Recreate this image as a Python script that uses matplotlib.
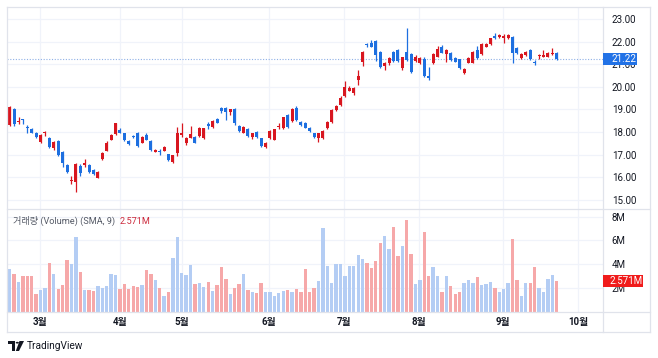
import matplotlib
matplotlib.use("Agg")
import matplotlib.pyplot as plt
from matplotlib.patches import Rectangle, Polygon, Circle
from matplotlib.lines import Line2D
from matplotlib.transforms import IdentityTransform

FONTS = ["Roboto", "Noto Sans CJK KR", "DejaVu Sans"]
plt.rcParams["font.family"] = FONTS

# ---------------- data ----------------
opens = [18.31, 19.00, 18.44, 18.55, 18.24, 18.12, 17.97, 17.57, 17.94, 17.76,
         17.28, 17.60, 17.13, 16.54, 15.85, 15.80, 16.49, 16.55, 16.54, 16.32,
         15.99, 16.79, 17.17, 17.67, 17.91, 18.09, 17.94, 17.60, 17.81, 17.97,
         17.53, 17.87, 17.60, 17.13, 17.16, 17.17, 17.03, 16.69, 17.06, 17.88,
         17.53, 17.76, 17.79, 17.82, 17.72, 18.33, 18.24, 18.56, 19.08, 19.05,
         18.90, 19.00, 18.26, 17.97, 18.12, 17.79, 18.00, 17.72, 17.32, 17.72,
         17.67, 18.22, 18.16, 18.75, 18.50, 19.05, 18.44, 18.41, 18.20, 17.94,
         17.76, 17.72, 18.19, 18.46, 18.97, 19.19, 19.59, 19.83, 19.71, 20.30,
         21.11, 21.88, 21.95, 22.04, 21.55, 20.92, 21.04, 21.55, 21.63, 20.82,
         21.55, 21.45, 21.16, 21.04, 21.21, 20.48, 21.04, 21.33, 21.75, 21.45,
         21.51, 21.26, 21.21, 20.60, 21.07, 21.07, 21.63, 21.45, 21.78, 21.89,
         22.25, 22.20, 22.18, 22.14, 22.22, 21.70, 21.26, 21.41, 21.63, 21.11,
         21.35, 21.33, 21.33, 21.45, 21.51]
highs = [19.15, 19.05, 18.65, 18.60, 18.31, 18.18, 18.00, 17.90, 18.05, 17.80,
         17.62, 17.65, 17.15, 16.60, 16.05, 16.65, 16.60, 16.79, 16.60, 16.36,
         16.27, 17.10, 17.60, 17.90, 18.40, 18.16, 17.97, 17.63, 17.86, 18.00,
         17.82, 17.95, 17.63, 17.25, 17.25, 17.40, 17.05, 17.00, 18.24, 18.38,
         17.80, 18.26, 17.82, 18.22, 18.20, 18.45, 18.55, 18.62, 19.12, 19.10,
         19.03, 19.05, 18.30, 18.28, 18.20, 17.98, 18.05, 17.75, 17.55, 18.10,
         18.15, 18.38, 18.68, 18.80, 19.05, 19.15, 18.47, 18.44, 18.24, 17.98,
         17.97, 18.10, 18.50, 19.00, 19.20, 19.60, 20.27, 20.05, 20.00, 20.74,
         21.60, 21.95, 22.05, 22.08, 21.60, 21.08, 21.30, 21.60, 21.68, 21.33,
         22.58, 21.50, 21.41, 21.30, 21.33, 20.89, 21.50, 21.80, 21.85, 21.68,
         21.55, 21.30, 21.25, 20.82, 21.30, 21.60, 21.80, 21.95, 21.93, 22.18,
         22.40, 22.33, 22.32, 22.32, 22.27, 21.74, 21.50, 21.60, 21.66, 21.20,
         21.45, 21.63, 21.55, 21.70, 21.55]
lows = [18.28, 18.26, 18.35, 18.35, 17.94, 17.94, 17.76, 17.50, 17.82, 17.30,
        17.22, 16.95, 16.47, 16.20, 15.70, 15.36, 16.05, 16.47, 16.20, 16.10,
        15.96, 16.76, 17.15, 17.65, 17.88, 17.94, 17.62, 17.45, 17.72, 17.35,
        17.50, 17.65, 17.15, 17.10, 17.00, 17.15, 16.72, 16.65, 16.95, 17.79,
        17.45, 17.72, 17.50, 17.78, 17.70, 18.15, 18.20, 18.38, 18.83, 18.53,
        18.75, 18.30, 18.00, 17.94, 17.78, 17.70, 17.75, 17.33, 17.28, 17.70,
        17.65, 18.12, 18.12, 18.20, 18.45, 18.50, 18.28, 18.16, 18.02, 17.76,
        17.57, 17.70, 18.15, 18.42, 18.92, 19.15, 19.55, 19.80, 19.65, 20.08,
        20.90, 21.75, 21.75, 21.16, 20.85, 20.74, 20.95, 21.12, 21.10, 20.74,
        21.15, 20.62, 21.10, 21.00, 20.45, 20.30, 21.00, 21.30, 21.48, 21.11,
        21.15, 21.08, 20.78, 20.55, 21.04, 21.04, 21.22, 21.40, 21.75, 21.86,
        22.10, 22.15, 21.95, 22.10, 21.04, 21.45, 21.22, 21.38, 21.18, 20.98,
        21.25, 21.30, 21.30, 21.40, 21.18]
closes = [19.12, 18.35, 18.48, 18.52, 18.18, 17.97, 17.79, 17.87, 17.98, 17.35,
          17.57, 16.98, 16.64, 16.24, 15.90, 16.58, 16.20, 16.62, 16.24, 16.14,
          16.24, 17.06, 17.53, 17.87, 18.38, 17.97, 17.65, 17.47, 17.77, 17.38,
          17.79, 17.67, 17.20, 17.20, 17.12, 17.35, 16.76, 16.98, 17.94, 17.94,
          17.76, 17.91, 17.53, 18.19, 18.16, 18.29, 18.50, 18.41, 18.93, 18.90,
          19.00, 18.41, 18.06, 18.24, 17.82, 17.94, 17.79, 17.38, 17.50, 18.06,
          18.12, 18.26, 18.65, 18.24, 19.00, 18.53, 18.31, 18.20, 18.06, 17.79,
          17.94, 18.06, 18.46, 18.97, 19.15, 19.49, 20.01, 19.97, 19.93, 20.48,
          21.55, 21.84, 21.78, 21.41, 20.89, 21.04, 21.26, 21.16, 21.15, 21.30,
          21.19, 20.67, 21.30, 21.26, 20.48, 20.37, 21.45, 21.66, 21.51, 21.63,
          21.19, 21.11, 20.82, 20.78, 21.26, 21.55, 21.26, 21.89, 21.89, 22.14,
          22.14, 22.29, 22.27, 22.29, 21.51, 21.48, 21.45, 21.55, 21.21, 21.04,
          21.38, 21.41, 21.51, 21.50, 21.22]
volumes_m = [3.56, 3.14, 2.52, 3.00, 3.00, 3.00, 1.45, 1.84, 1.95, 4.07,
             3.16, 1.90, 2.24, 4.35, 4.00, 6.30, 3.36, 1.81, 1.78, 1.73,
             2.18, 2.00, 2.18, 3.19, 3.07, 1.90, 2.28, 1.90, 2.12, 2.10,
             2.24, 3.47, 3.16, 2.66, 2.00, 1.30, 1.62, 4.54, 6.26, 3.22,
             3.07, 3.92, 2.30, 2.42, 2.03, 2.52, 1.76, 2.24, 3.78, 2.74,
             1.50, 2.00, 2.30, 3.16, 1.84, 1.67, 1.56, 2.37, 1.67, 1.62,
             1.33, 1.53, 1.73, 1.84, 1.67, 1.90, 1.62, 3.59, 1.62, 1.95,
             2.57, 7.07, 3.87, 2.38, 4.00, 4.00, 3.02, 3.81, 3.87, 4.77,
             4.43, 4.12, 3.70, 4.26, 5.75, 6.37, 5.24, 7.16, 4.71, 5.53,
             7.72, 4.85, 2.32, 2.63, 6.68, 3.02, 3.78, 3.02, 1.67, 3.02,
             2.18, 1.48, 1.62, 2.38, 2.66, 2.43, 2.91, 2.24, 2.32, 2.46,
             1.95, 1.67, 1.86, 2.43, 6.12, 2.66, 1.30, 2.43, 2.38, 3.73,
             1.95, 1.67, 2.74, 3.07, 2.571]
month_labels = ["3월", "4월", "5월", "6월", "7월", "8월", "9월", "10월"]
month_start_idx = [6.9, 25.0, 39.1, 58.8, 75.8, 92.8, 111.9, 128.9]
price_ticks = [15, 16, 17, 18, 19, 20, 21, 22, 23]
volume_ticks_m = [2, 4, 6, 8]
volume_title = "거래량 (Volume) (SMA, 9)"
volume_last_label = "2.571M"

# ---------------- style ----------------
UP = "#d8161f"
DOWN = "#1d6fe0"
VOL_RED = "#f6a8a9"
VOL_BLUE = "#b4cdf4"
GRID = "#f0f3fa"
BORDER = "#e0e3eb"
TXT = "#131722"

W, H = 658, 358
fig = plt.figure(figsize=(W / 100, H / 100), dpi=100)
fig.patch.set_facecolor("white")

L, R, RR = 7, 603, 650
P_TOP, P_BOT = 7, 209
V_TOP, V_BOT = 209, 311.5
B_BOT = 332

ax_p = fig.add_axes([L / W, 1 - P_BOT / H, (R - L) / W, (P_BOT - P_TOP) / H])
ax_v = fig.add_axes([L / W, 1 - V_BOT / H, (R - L) / W, (V_BOT - V_TOP) / H], sharex=ax_p)

n = len(closes)
xs = list(range(n))
ax_p.set_xlim(-0.61, 134.5)
ax_p.set_ylim(14.6, 23.53)
ax_v.set_ylim(0, 8.65)

for ax in (ax_p, ax_v):
    for s in ax.spines.values():
        s.set_visible(False)
    ax.set_xticks(month_start_idx)
    ax.grid(True, color=GRID, lw=0.9, zorder=0)
    ax.set_axisbelow(True)
    ax.set_facecolor("white")

# candles
for i in xs:
    o, h, l, c = opens[i], highs[i], lows[i], closes[i]
    col = UP if c >= o else DOWN
    ax_p.vlines(i, l, h, color=col, lw=0.9, zorder=2)
    bot = min(o, c)
    hgt = max(abs(c - o), 0.05)
    ax_p.bar(i, hgt, bottom=bot, width=0.68, color=col, zorder=3, linewidth=0)

# volume bars (the reference colours them opposite to the candle direction)
vcols = [VOL_RED if closes[i] < opens[i] else VOL_BLUE for i in xs]
ax_v.bar(xs, volumes_m, width=0.76, color=vcols, linewidth=0, zorder=2)

# axis ticks
ax_p.yaxis.tick_right()
ax_p.set_yticks(price_ticks)
ax_p.set_yticklabels([f"{v:.2f}" for v in price_ticks])
ax_p.tick_params(axis="y", length=0, pad=6.3, labelsize=7, labelcolor=TXT)
ax_p.tick_params(axis="x", length=0, labelbottom=False)

ax_v.yaxis.tick_right()
ax_v.set_yticks(volume_ticks_m)
ax_v.set_yticklabels([f"{v}M" for v in volume_ticks_m])
ax_v.tick_params(axis="y", length=0, pad=6.3, labelsize=7, labelcolor=TXT)
ax_v.set_xticklabels(month_labels)
ax_v.tick_params(axis="x", length=0, pad=4.2, labelsize=7, labelcolor=TXT)
for t in ax_v.get_xticklabels():
    t.set_fontweight("bold")

# last price dotted line and label
last = closes[-1]
ax_p.axhline(last, color="#8fb0e6", lw=0.8, ls=(0, (1, 1.5)), zorder=1)
fig.canvas.draw()
ident = IdentityTransform()
yd = ax_p.transData.transform((0, last))[1]
fig.add_artist(Rectangle((R, yd - 6), 34, 12, transform=ident, fc="#2272e6", ec="none", zorder=10))
fig.text(611 / W, yd / H, f"{last:.2f}", color="white", fontsize=7, va="center", ha="left", zorder=11)

yv = ax_v.transData.transform((0, volumes_m[-1]))[1]
fig.add_artist(Rectangle((R, yv - 6), 40, 12, transform=ident, fc="#f01b1b", ec="none", zorder=10))
fig.text(610 / W, yv / H, volume_last_label, color="white", fontsize=7, va="center", ha="left", zorder=11)

# legend text of volume pane
t1 = fig.text(13 / W, 1 - 221 / H, volume_title, color="#555a66", fontsize=6.6, va="center", ha="left")
fig.canvas.draw()
x_end = t1.get_window_extent().x1
fig.text((x_end + 5) / W, 1 - 221 / H, volume_last_label, color="#cc2a3c", fontsize=6.6,
         va="center", ha="left")

# frame lines (figure pixel coords, y from top)
def hline(y, x0, x1):
    fig.add_artist(Line2D([x0 / W, x1 / W], [1 - y / H, 1 - y / H], color=BORDER, lw=0.9))

def vline(x, y0, y1):
    fig.add_artist(Line2D([x / W, x / W], [1 - y0 / H, 1 - y1 / H], color=BORDER, lw=0.9))

hline(P_TOP, L, RR)
hline(P_BOT, L, RR)
hline(V_BOT, L, RR)
hline(B_BOT, L, RR)
vline(L, P_TOP, B_BOT)
vline(R, P_TOP, B_BOT)
vline(RR, P_TOP, B_BOT)

# TradingView logo + text
logo = "#131722"
def P(pts):
    return [(x / W, 1 - y / H) for x, y in pts]
fig.add_artist(Polygon(P([(8, 341), (15, 341), (15, 351), (12, 351), (12, 344), (8, 344)]),
                       closed=True, fc=logo, ec="none"))
fig.add_artist(Circle((17.3 / W, 1 - 342.7 / H), 1.6 / W, fc=logo, ec="none"))
fig.add_artist(Polygon(P([(19.5, 341), (24, 341), (19, 351), (15.8, 351)]), closed=True, fc=logo, ec="none"))
fig.text(27 / W, 1 - 346 / H, "TradingView", color=logo, fontsize=7.3, va="center", ha="left")

fig.savefig("out.png", dpi=100, facecolor="white")
